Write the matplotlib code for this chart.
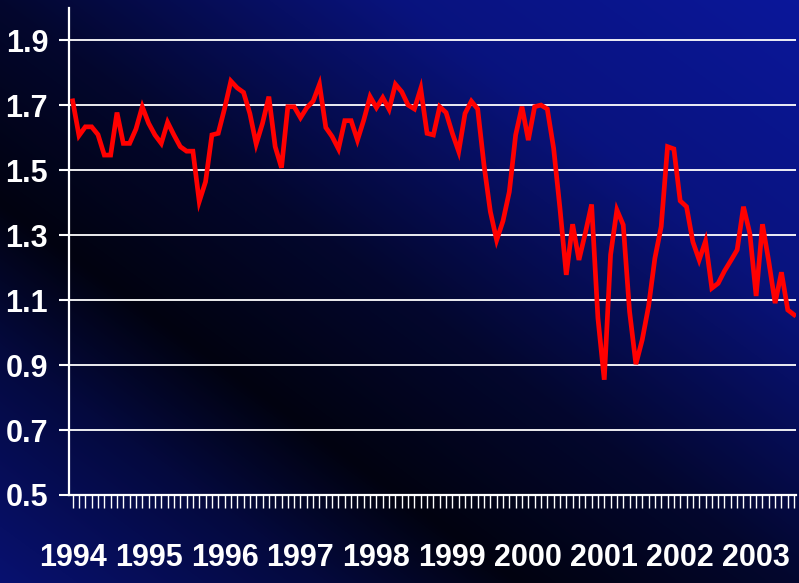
import numpy as np
import matplotlib
matplotlib.use('Agg')
import matplotlib.pyplot as plt

# monthly series, Jan 1994 onwards
years = ['1994', '1995', '1996', '1997', '1998', '1999', '2000', '2001', '2002', '2003']
values = [
    1.714, 1.607, 1.634, 1.634, 1.610, 1.547, 1.547, 1.678, 1.583, 1.583, 1.627, 1.696,
    1.645, 1.609, 1.583, 1.648, 1.609, 1.573, 1.559, 1.559, 1.404, 1.465, 1.609, 1.614,
    1.690, 1.775, 1.754, 1.740, 1.675, 1.581, 1.645, 1.727, 1.573, 1.508, 1.696, 1.696,
    1.662, 1.693, 1.713, 1.765, 1.632, 1.604, 1.566, 1.653, 1.653, 1.593, 1.655, 1.727,
    1.693, 1.724, 1.688, 1.765, 1.742, 1.701, 1.689, 1.752, 1.614, 1.609, 1.696, 1.678,
    1.614, 1.558, 1.675, 1.713, 1.689, 1.516, 1.373, 1.285, 1.344, 1.434, 1.609, 1.696,
    1.593, 1.696, 1.701, 1.689, 1.568, 1.383, 1.178, 1.334, 1.224, 1.306, 1.395, 1.045,
    0.855, 1.240, 1.378, 1.332, 1.065, 0.903, 0.978, 1.081, 1.229, 1.327, 1.573, 1.566,
    1.406, 1.388, 1.280, 1.224, 1.282, 1.137, 1.152, 1.190, 1.222, 1.255, 1.388, 1.306,
    1.113, 1.334, 1.219, 1.091, 1.186, 1.070, 1.055,
]
yticks = [0.5, 0.7, 0.9, 1.1, 1.3, 1.5, 1.7, 1.9]

plt.rcParams['font.family'] = ['Liberation Sans', 'DejaVu Sans']

W, H = 799, 583
fig = plt.figure(figsize=(W / 100, H / 100), dpi=100)

# diagonal background: dark band from top-left to bottom-right, blue corners
xx, yy = np.meshgrid(np.linspace(0, 1, W), np.linspace(0, 1, H))
t = xx - yy
blue = np.interp(t, [-1.0, -0.6, -0.35, 0.0, 0.5, 1.0],
                 [112, 62, 16, 46, 126, 154]) / 255
bg = np.dstack([0.07 * blue, 0.15 * blue, blue])
bg_ax = fig.add_axes([0, 0, 1, 1])
bg_ax.imshow(bg, aspect='auto', extent=[0, 1, 0, 1])
bg_ax.axis('off')

ax = fig.add_axes([69 / W, 1 - 495 / H, (796 - 69) / W, (495 - 8) / H])
ax.patch.set_alpha(0)

x = np.arange(len(values))
ax.plot(x, values, color='#ff0000', lw=3.4, solid_joinstyle='miter', zorder=3)

ax.set_ylim(0.5, 2.0)
ax.set_xlim(-0.58, 114.3)
ax.set_yticks(yticks)
ax.set_yticklabels([f'{v:.1f}' for v in yticks])
ax.yaxis.grid(True, color='white', lw=1.3)
ax.set_axisbelow(True)

ax.set_xticks(x)
ax.set_xticklabels([years[i // 12] if i % 12 == 0 else '' for i in x])

for side in ['top', 'right']:
    ax.spines[side].set_visible(False)
for side in ['left', 'bottom']:
    ax.spines[side].set_color('white')
    ax.spines[side].set_linewidth(1.6)

ax.tick_params(axis='y', colors='white', direction='out', length=7, width=1.5, pad=8,
               labelsize=22)
ax.tick_params(axis='x', colors='white', direction='out', length=9.5, width=1.0, pad=25,
               labelsize=22)
for lbl in ax.get_xticklabels() + ax.get_yticklabels():
    lbl.set_fontweight('bold')

fig.savefig('out.png', dpi=100)
